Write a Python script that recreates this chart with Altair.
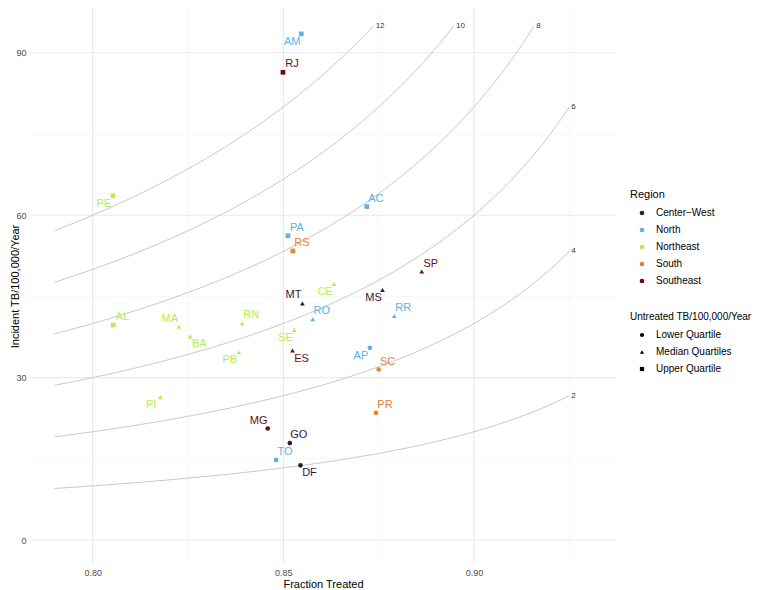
import altair as alt
import numpy as np
import pandas as pd

# ---- data ----
STATES = ["AM", "RJ", "PE", "AC", "PA", "RS", "AL",
          "CE", "MS", "SP", "MT", "MA", "BA", "RN", "PB", "RO", "SE", "ES", "PI", "RR",
          "AP", "SC", "PR", "MG", "GO", "TO", "DF"]
FRACTION = [0.8547, 0.8499, 0.8053, 0.8719, 0.8512, 0.8525, 0.8054,
            0.8633, 0.8760, 0.8863, 0.8550, 0.8226, 0.8256, 0.8392, 0.8383, 0.8577, 0.8529, 0.8524, 0.8177, 0.8791,
            0.8727, 0.8750, 0.8743, 0.8459, 0.8517, 0.8481, 0.8545]
INCIDENCE = [93.5, 86.4, 63.6, 61.6, 56.2, 53.4, 39.7,
             47.3, 46.2, 49.6, 43.7, 39.4, 37.6, 40.0, 34.7, 40.8, 38.8, 35.0, 26.4, 41.4,
             35.5, 31.5, 23.5, 20.6, 17.9, 14.8, 13.8]
REGION = ["North", "Southeast", "Northeast", "North", "North", "South", "Northeast",
          "Northeast", "Center−West", "Southeast", "Center−West", "Northeast", "Northeast", "Northeast",
          "Northeast", "North", "Northeast", "Southeast", "Northeast", "North",
          "North", "South", "South", "Southeast", "Center−West", "North", "Center−West"]
QUARTILE = ["Upper Quartile"] * 7 + ["Median Quartiles"] * 13 + ["Lower Quartile"] * 7
# label placement direction (styling only)
LABEL_POS = ["ll", "ur", "ll", "ur", "ur", "ur", "ur",
             "ll", "ll", "ur", "ul", "ul", "lr", "ur", "ll", "ur", "ll", "lr", "ll", "ur",
             "ll", "ur", "ur", "ul", "ur", "ur", "lr"]

REGIONS = ["Center−West", "North", "Northeast", "South", "Southeast"]
REGION_COLORS = ["#2b1a3d", "#5bb2e6", "#b6ef45", "#e8822e", "#6b0d10"]
QUARTILES = ["Lower Quartile", "Median Quartiles", "Upper Quartile"]
SHAPES = ["circle", "triangle-up", "square"]

LEVELS = [2, 4, 6, 8, 10, 12]          # untreated TB/100,000/year isoclines
X_START, X_MAX, Y_MAX = 0.79, 0.925, 95

X_MAJOR = [0.80, 0.85, 0.90]
X_MINOR = [0.825, 0.875, 0.925]
Y_MAJOR = [0, 30, 60, 90]
Y_MINOR = [15, 45, 75]

# ---- tables ----
points = pd.DataFrame({"state": STATES, "x": FRACTION, "y": INCIDENCE,
                       "region": REGION, "quart": QUARTILE, "pos": LABEL_POS})

rows = []
for u in LEVELS:
    xend = min(X_MAX, 1 - u / Y_MAX)
    for xv in np.linspace(X_START, xend, 80):
        rows.append({"level": u, "x": float(xv), "y": u / (1 - xv)})
curves = pd.DataFrame(rows)
ends = curves.groupby("level").tail(1).copy()
ends["lab"] = ends["level"].astype(str)

xscale = alt.Scale(domain=[0.78356, 0.93724], nice=False, zero=False)
yscale = alt.Scale(domain=[-4.43, 98.28], nice=False, zero=False)

xaxis = alt.Axis(values=X_MAJOR, format=".2f", grid=False, domain=False, ticks=False,
                 labelColor="#4d4d4d", labelFontSize=9, labelPadding=4,
                 title="Fraction Treated", titleFontSize=11, titleFontWeight="normal",
                 titleColor="#000000", titlePadding=1)
yaxis = alt.Axis(values=Y_MAJOR, format="d", grid=False, domain=False, ticks=False,
                 labelColor="#4d4d4d", labelFontSize=9, labelPadding=4,
                 title="Incident TB/100,000/Year", titleFontSize=11, titleFontWeight="normal",
                 titleColor="#000000", titleX=-15, titleBaseline="middle")

X = lambda f: alt.X(f, type="quantitative", scale=xscale, axis=xaxis)
Y = lambda f: alt.Y(f, type="quantitative", scale=yscale, axis=yaxis)

gx_major = alt.Chart(pd.DataFrame({"x": X_MAJOR})).mark_rule(color="#e9e9e9", strokeWidth=1.1).encode(x=X("x"))
gx_minor = alt.Chart(pd.DataFrame({"x": X_MINOR})).mark_rule(color="#f2f2f2", strokeWidth=0.6).encode(x=X("x"))
gy_major = alt.Chart(pd.DataFrame({"y": Y_MAJOR})).mark_rule(color="#e9e9e9", strokeWidth=1.1).encode(y=Y("y"))
gy_minor = alt.Chart(pd.DataFrame({"y": Y_MINOR})).mark_rule(color="#f2f2f2", strokeWidth=0.6).encode(y=Y("y"))

curve_lines = alt.Chart(curves).mark_line(color="#c2c2c2", strokeWidth=0.9).encode(
    x=X("x"), y=Y("y"), detail="level:N")
curve_labels = alt.Chart(ends).mark_text(align="left", baseline="middle", dx=2, fontSize=8,
                                         color="#333333").encode(x=X("x"), y=Y("y"), text="lab:N")

color_scale = alt.Scale(domain=REGIONS, range=REGION_COLORS)
shape_scale = alt.Scale(domain=QUARTILES, range=SHAPES)

common_legend = dict(orient="none", labelFontSize=10, titleFontWeight="normal",
                     rowPadding=7, symbolOffset=7, labelOffset=9, padding=0, titlePadding=8,
                     labelColor="#000000", titleColor="#000000", titleLimit=300, labelLimit=300)

pts = alt.Chart(points).mark_point(filled=True, size=22, opacity=1).encode(
    x=X("x"), y=Y("y"),
    color=alt.Color("region:N", scale=color_scale,
                    legend=alt.Legend(title="Region", legendX=600, legendY=181, titleFontSize=11,
                                      symbolType="circle", symbolSize=22, **common_legend)),
    shape=alt.Shape("quart:N", scale=shape_scale,
                    legend=alt.Legend(title="Untreated TB/100,000/Year", legendX=600, legendY=304,
                                      titleFontSize=10, symbolSize=18, symbolStrokeWidth=0,
                                      symbolFillColor="#000000", **common_legend)),
)

OFFS = {"ur": (9, -8), "ul": (-9, -8), "lr": (9, 8), "ll": (-9, 8)}
texts = []
for k, (dx, dy) in OFFS.items():
    texts.append(alt.Chart(points).transform_filter(alt.datum.pos == k).mark_text(
        dx=dx, dy=dy, fontSize=11, align="center", baseline="middle").encode(
        x=X("x"), y=Y("y"), text="state:N",
        color=alt.Color("region:N", scale=color_scale, legend=None)))

chart = alt.layer(gx_minor, gy_minor, gx_major, gy_major, curve_lines, curve_labels, pts, *texts).properties(
    width=586, height=556, autosize="none",
    padding={"left": 22, "top": 0, "right": 139, "bottom": 26},
).configure(font="Liberation Sans").configure_view(stroke=None)

chart.save("out.html", embed_options={"renderer": "svg", "actions": False})
